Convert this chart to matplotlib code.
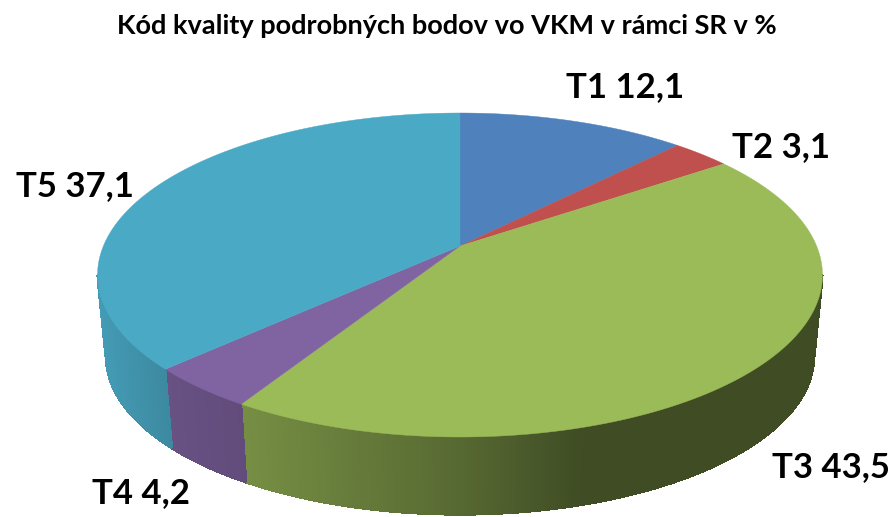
#!/usr/bin/env python3
import numpy as np
import matplotlib
matplotlib.use('Agg')
import matplotlib.pyplot as plt
from matplotlib.collections import PolyCollection, LineCollection
from matplotlib.colors import to_rgb

names = ['T1', 'T2', 'T3', 'T4', 'T5']
values = [12.1, 3.1, 43.5, 4.2, 37.1]
colors = ['#4F81BD', '#C0504D', '#9BBB59', '#8064A2', '#4AA9C5']
title = 'Kód kvality podrobných bodov vo VKM v rámci SR v %'

# label anchor (left edge, vertical centre) in pixels
label_pos = [(566, 87), (732, 147), (772, 467), (92, 493), (16, 186)]

# pie geometry in pixels, perspective projection of a flat disc
CX, CY = 460, 246
A, B, P = 356.6, 156.8, 0.179
BOT_CY, BOT_S = 328, 0.977


def project(t, cy=CY, s=1.0):
    # t is the clockwise angle from the top of the pie, in radians
    u, v = np.sin(t), np.cos(t)
    w = 1 + P * v
    return CX + s * A * u / w, cy - s * B * v / w


def shade(x):
    # side wall gets darker from left to right
    return np.interp(x, [100, 170, 245, 460, 580, 893],
                     [0.92, 0.81, 0.76, 0.56, 0.41, 0.41])


fig = plt.figure(figsize=(8.93, 5.17), dpi=100)
ax = fig.add_axes([0, 0, 1, 1])
ax.set_xlim(0, 893)
ax.set_ylim(517, 0)
ax.axis('off')

total = sum(values)
edges = np.concatenate([[0], np.cumsum(values)]) / total * 2 * np.pi

# side walls first, only the part that faces the viewer
polys, cols, rims = [], [], []
for i in range(len(values)):
    ts = np.linspace(edges[i], edges[i + 1], max(int(values[i] * 12), 3))
    ts = ts[np.cos(ts) < -P]
    base = np.array(to_rgb(colors[i]))
    for t0, t1 in zip(ts[:-1], ts[1:]):
        x0, y0 = project(t0)
        x1, y1 = project(t1)
        x2, y2 = project(t1, BOT_CY, BOT_S)
        x3, y3 = project(t0, BOT_CY, BOT_S)
        c = base * shade((x0 + x1 + x2 + x3) / 4)
        polys.append([(x0, y0), (x1, y1), (x2, y2), (x3, y3)])
        rims.append([(x2, y2), (x3, y3)])
        cols.append(c)
ax.add_collection(PolyCollection(polys, facecolors=cols, edgecolors=cols,
                                 linewidths=0.8, antialiaseds=False, zorder=1))
# smooth the lower outline, the strips themselves are not antialiased
ax.add_collection(LineCollection(rims, colors=cols, linewidths=1.0, zorder=1))

# top faces
for i in range(len(values)):
    ts = np.linspace(edges[i], edges[i + 1], max(int(values[i] * 8), 3))
    x, y = project(ts)
    ax.fill(np.r_[CX, x], np.r_[CY, y], color=colors[i], lw=0.3, zorder=2)

for name, val, (lx, ly) in zip(names, values, label_pos):
    ax.text(lx, ly, '{} {}'.format(name, str(val).replace('.', ',')),
            family='Lato', weight='bold', fontsize=25, color='black',
            ha='left', va='center', zorder=3)

ax.text(446.5, 26, title, family='Lato', weight='bold', fontsize=19.5,
        color='black', ha='center', va='center')

fig.savefig('out.png', dpi=100, facecolor='white')
